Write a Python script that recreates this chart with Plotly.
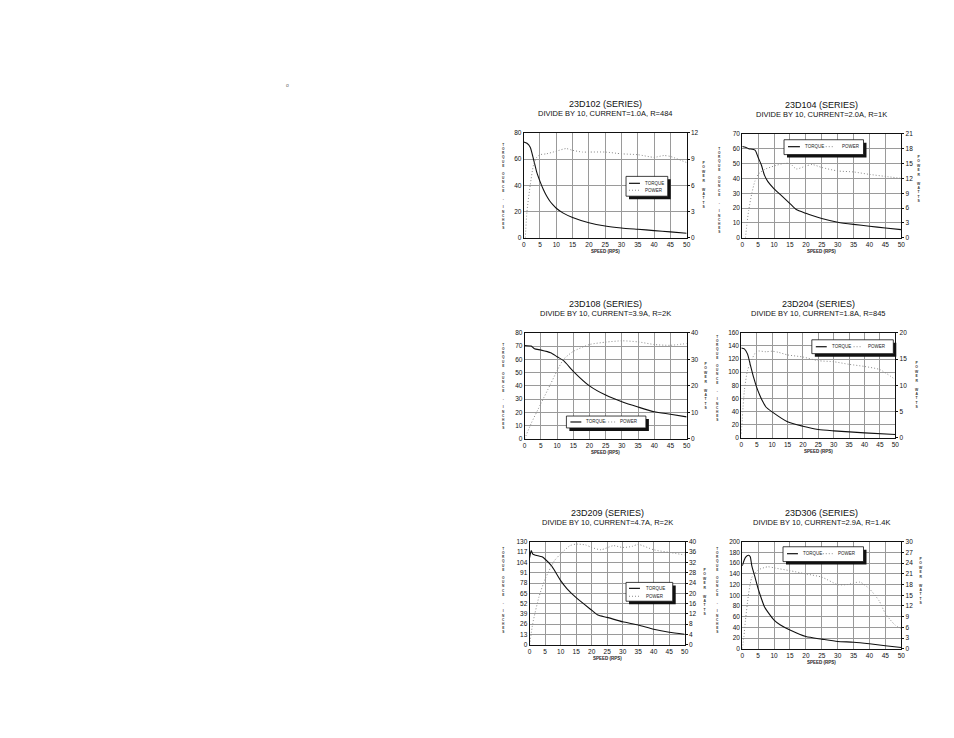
import plotly.graph_objects as go

W, H = 954, 738
PAD = 8  # default page body margin of the html page
FW, FH = W - 2 * PAD, H - 2 * PAD

speed_ticks = [0, 5, 10, 15, 20, 25, 30, 35, 40, 45, 50]

# ---- 23D102 ----
m1_title = "23D102 (SERIES)"
m1_sub = "DIVIDE BY 10, CURRENT=1.0A, R=484"
m1_speed = [0, 1, 2, 3, 4, 5, 6, 7, 8, 9, 10, 12, 15, 20, 25, 30, 35, 40, 45, 50]
m1_torque = [73, 72, 69, 60, 50, 43, 37, 32, 28, 25, 22.5, 19, 15.5, 11.5, 9, 7.5, 6.5, 5.5, 4.5, 3.5]
m1_pspeed = [0.5, 1, 2, 3, 4, 5, 7, 10, 13, 15, 18, 20, 25, 30, 35, 40, 43, 45, 50]
m1_power = [0, 3, 6, 8.3, 9.2, 9.5, 9.6, 9.9, 10.2, 10, 9.8, 9.8, 9.8, 9.6, 9.5, 9.2, 9.4, 9.3, 8.6]
m1_tticks = [0, 20, 40, 60, 80]
m1_pticks = [0, 3, 6, 9, 12]

# ---- 23D104 ----
m2_title = "23D104 (SERIES)"
m2_sub = "DIVIDE BY 10, CURRENT=2.0A, R=1K"
m2_speed = [0, 1, 2, 4, 5, 6, 7, 8, 10, 12, 15, 17, 20, 22, 25, 30, 35, 40, 45, 50]
m2_torque = [61.5, 61, 60, 59, 54, 49, 42, 38, 33, 29, 23, 19, 16.5, 15, 13, 10.5, 9, 7.8, 6.6, 5.5]
m2_pspeed = [1, 1.5, 2, 3, 4, 5, 7, 10, 13, 15, 17, 20, 22, 25, 30, 35, 40, 45, 50]
m2_power = [0, 3, 5.5, 9, 11.5, 12.8, 13.8, 14.5, 15, 15, 13.9, 14.5, 14.8, 14.2, 13.5, 13.3, 12.8, 12.4, 12]
m2_tticks = [0, 10, 20, 30, 40, 50, 60, 70]
m2_pticks = [0, 3, 6, 9, 12, 15, 18, 21]

# ---- 23D108 ----
m3_title = "23D108 (SERIES)"
m3_sub = "DIVIDE BY 10, CURRENT=3.9A, R=2K"
m3_speed = [0, 2, 3, 5, 8, 10, 12, 15, 20, 25, 30, 35, 40, 45, 50]
m3_torque = [70.5, 70, 68, 67, 65, 62, 59, 51, 40, 33, 28, 24, 20.4, 18.6, 16.6]
m3_pspeed = [0, 2, 5, 8, 10, 12, 15, 20, 25, 30, 35, 40, 45, 50]
m3_power = [0, 5.8, 13.3, 20.7, 25.7, 30, 33, 35.6, 36.5, 37, 36.6, 35.6, 35.3, 36]
m3_tticks = [0, 10, 20, 30, 40, 50, 60, 70, 80]
m3_pticks = [0, 10, 20, 30, 40]

# ---- 23D204 ----
m4_title = "23D204 (SERIES)"
m4_sub = "DIVIDE BY 10, CURRENT=1.8A, R=845"
m4_speed = [0, 1, 2, 3, 4, 5, 6, 7, 8, 10, 15, 20, 25, 30, 40, 50]
m4_torque = [137, 135.5, 128, 110, 92, 77, 65, 55, 47, 39.5, 24.5, 17.7, 12.7, 10.6, 7.6, 5]
m4_pspeed = [0, 1, 2, 3, 5, 8, 10, 12, 15, 20, 25, 30, 35, 40, 45, 50]
m4_power = [0.8, 9, 12.8, 14.4, 16.5, 16.4, 16.5, 16.3, 15.8, 15.4, 14.7, 14.5, 14, 13.6, 13, 11.1]
m4_tticks = [0, 20, 40, 60, 80, 100, 120, 140, 160]
m4_pticks = [0, 5, 10, 15, 20]

# ---- 23D209 ----
m5_title = "23D209 (SERIES)"
m5_sub = "DIVIDE BY 10, CURRENT=4.7A, R=2K"
m5_speed = [0, 0.5, 1, 2, 4, 5, 7, 8, 10, 12, 15, 20, 22, 25, 30, 35, 40, 45, 50]
m5_torque = [110, 119, 114.5, 113, 111, 108, 100, 94, 81, 71, 59.5, 43.7, 37.5, 34.6, 29, 25, 19.6, 15.8, 13.3]
m5_pspeed = [0, 1, 3, 5, 8, 10, 13, 15, 18, 20, 23, 27, 30, 33, 35, 40, 45, 50]
m5_power = [0, 8.3, 18.6, 25.6, 32.7, 35.3, 38.5, 39.1, 38.8, 37.8, 36.9, 38.5, 37.8, 38.2, 39, 36.9, 35.9, 34.9]
m5_tticks = [0, 13, 26, 39, 52, 65, 78, 91, 104, 117, 130]
m5_pticks = [0, 4, 8, 12, 16, 20, 24, 28, 32, 36, 40]

# ---- 23D306 ----
m6_title = "23D306 (SERIES)"
m6_sub = "DIVIDE BY 10, CURRENT=2.9A, R=1.4K"
m6_speed = [0, 1, 2, 2.5, 3, 4, 5, 6, 7, 8, 10, 12, 15, 20, 25, 30, 35, 40, 45, 50]
m6_torque = [155, 171, 175, 172, 155, 134, 112, 94, 78, 69, 53.7, 44.4, 35, 22.8, 18, 13.6, 12.3, 9.3, 5.6, 2.5]
m6_pspeed = [0, 0.5, 1, 2, 3, 5, 8, 10, 15, 20, 25, 30, 33, 37, 40, 43, 45, 48, 50]
m6_power = [0, 3.4, 8, 15.5, 20, 22.1, 23, 22.7, 21.9, 21, 20.1, 18, 18, 18.7, 16.8, 13.5, 9.9, 6.7, 5.7]
m6_tticks = [0, 20, 40, 60, 80, 100, 120, 140, 160, 180, 200]
m6_pticks = [0, 3, 6, 9, 12, 15, 18, 21, 24, 27, 30]

motors = [
    (m1_title, m1_sub, m1_speed, m1_torque, m1_pspeed, m1_power, m1_tticks, m1_pticks),
    (m2_title, m2_sub, m2_speed, m2_torque, m2_pspeed, m2_power, m2_tticks, m2_pticks),
    (m3_title, m3_sub, m3_speed, m3_torque, m3_pspeed, m3_power, m3_tticks, m3_pticks),
    (m4_title, m4_sub, m4_speed, m4_torque, m4_pspeed, m4_power, m4_tticks, m4_pticks),
    (m5_title, m5_sub, m5_speed, m5_torque, m5_pspeed, m5_power, m5_tticks, m5_pticks),
    (m6_title, m6_sub, m6_speed, m6_torque, m6_pspeed, m6_power, m6_tticks, m6_pticks),
]

# layout geometry (page pixels): plot boxes
boxes = [(525, 130, 689, 236), (745, 131, 905, 236),
         (526, 332, 689, 439), (744, 332, 899, 438),
         (531, 543, 687, 647), (745, 543, 905, 651)]
left_title_pos = [(505, 184), (722, 188), (505, 386), (720, 378), (505, 592), (720, 592)]
right_title_pos = [(706, 183), (923, 177), (708, 386), (921, 385), (707, 594), (925, 583)]
# legend geometry: box and rows (y, line x0, line x1, text x, text, is_power)
legends = [
    ((628, 174, 670, 194), [(181, 631, 642, 645, "TORQUE", False), (188, 631, 642, 645, "POWER", True)]),
    ((787, 137, 867, 152), [(144, 791, 803, 806, "TORQUE", False), (144, 829, 838, 843, "POWER", True)]),
    ((568, 416, 648, 428), [(422, 572, 583, 586, "TORQUE", False), (422, 607, 617, 620, "POWER", True)]),
    ((815, 339, 897, 353), [(346, 819, 830, 833, "TORQUE", False), (346, 857, 866, 870, "POWER", True)]),
    ((628, 584, 675, 603), [(590, 631, 642, 646, "TORQUE", False), (598, 631, 642, 646, "POWER", True)]),
    ((786, 548, 867, 563), [(555, 790, 801, 804, "TORQUE", False), (555, 826, 836, 839, "POWER", True)]),
]

FONT = "Liberation Sans"
px = lambda x: (x - PAD) / FW
py = lambda y: 1 - (y - PAD) / FH


def note(x, y, text, size, xanchor="center", color="#222"):
    return dict(x=px(x), y=py(y), xref="paper", yref="paper", text=text, showarrow=False,
                xanchor=xanchor, yanchor="middle", font=dict(size=size, family=FONT, color=color))


fig = go.Figure()
layout = dict(width=FW, height=FH, margin=dict(l=0, r=0, t=0, b=0),
              paper_bgcolor="white", plot_bgcolor="white", showlegend=False,
              font=dict(family=FONT, color="#222"))
annotations = []
shapes = []
tickfont = dict(size=6.5, family=FONT, color="#111")

for i, (title, sub, sp, tq, psp, pw, tt, pt) in enumerate(motors):
    xn = i + 1
    yl = 2 * i + 1
    yr = 2 * i + 2
    xref = "x" if xn == 1 else f"x{xn}"
    ylref = "y" if yl == 1 else f"y{yl}"
    yrref = f"y{yr}"
    x0, y0, x1, y1 = boxes[i]
    fig.add_trace(go.Scatter(x=sp, y=tq, mode="lines", name="TORQUE",
                             line=dict(color="#111", width=1.1, shape="spline", smoothing=0.6),
                             xaxis=xref, yaxis=ylref))
    fig.add_trace(go.Scatter(x=psp, y=pw, mode="lines", name="POWER",
                             line=dict(color="#8a8a8a", width=1, dash="1px,2px", shape="spline", smoothing=0.6),
                             xaxis=xref, yaxis=yrref))
    xkey = "xaxis" if xn == 1 else f"xaxis{xn}"
    ylkey = "yaxis" if yl == 1 else f"yaxis{yl}"
    yrkey = f"yaxis{yr}"
    layout[xkey] = dict(domain=[px(x0), px(x1)], range=[0, 50], tickvals=speed_ticks,
                        anchor=ylref, showline=True, mirror=True, linecolor="#111", linewidth=1,
                        showgrid=True, gridcolor="#9a9a9a", gridwidth=0.7, zeroline=False,
                        ticks="", tickfont=tickfont)
    layout[ylkey] = dict(domain=[py(y1), py(y0)], range=[0, tt[-1]], tickvals=tt,
                         anchor=xref, showline=True, mirror=True, linecolor="#111", linewidth=1,
                         showgrid=True, gridcolor="#9a9a9a", gridwidth=0.7, zeroline=False,
                         ticks="", tickfont=tickfont)
    layout[yrkey] = dict(range=[0, pt[-1]], tickvals=pt, overlaying=ylref, side="right",
                         anchor=xref, showline=True, linecolor="#111", linewidth=1,
                         showgrid=False, zeroline=False, ticks="outside", ticklen=2, tickcolor="#111",
                         tickfont=tickfont)
    cx = (x0 + x1) / 2
    annotations.append(note(cx, y0 - 29, title, 9, color="#111"))
    annotations.append(note(cx, y0 - 19.5, sub, 7.5, color="#111"))
    annotations.append(note(cx, y1 + 14, "<b>SPEED (RPS)</b>", 4.5))
    lx, ly = left_title_pos[i]
    annotations.append(note(lx, ly, "<b>" + "<br>".join(list("TORQUE OUNCE - INCHES")) + "</b>", 3.2, color="#333"))
    rx, ry = right_title_pos[i]
    annotations.append(note(rx, ry, "<b>" + "<br>".join(list("POWER WATTS")) + "</b>", 3.4, color="#333"))
    # legend
    (bx0, by0, bx1, by1), rows = legends[i]
    shapes.append(dict(type="rect", xref="paper", yref="paper", x0=px(bx0 + 3), x1=px(bx1 + 3),
                       y0=py(by1 + 3), y1=py(by0 + 3), fillcolor="#111", line=dict(width=0)))
    shapes.append(dict(type="rect", xref="paper", yref="paper", x0=px(bx0), x1=px(bx1),
                       y0=py(by1), y1=py(by0), fillcolor="white", line=dict(color="#111", width=0.8)))
    for (ry_, lx0, lx1, tx, txt, is_pw) in rows:
        shapes.append(dict(type="line", xref="paper", yref="paper", x0=px(lx0), x1=px(lx1),
                           y0=py(ry_), y1=py(ry_),
                           line=dict(color="#8a8a8a" if is_pw else "#111", width=1 if is_pw else 1.2,
                                     dash="1px,2px" if is_pw else "solid")))
        annotations.append(note(tx, ry_, txt, 4.5, xanchor="left"))

annotations.append(note(287, 82, "o", 5, color="#666"))

layout["annotations"] = annotations
layout["shapes"] = shapes
fig.update_layout(**layout)
fig.write_html("out.html")
